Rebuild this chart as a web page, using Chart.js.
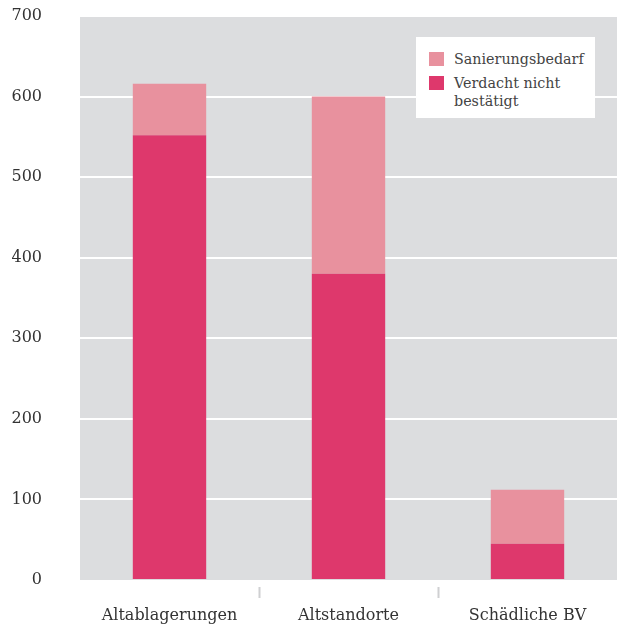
<!DOCTYPE html>
<html lang="de">
<head>
<meta charset="utf-8">
<script src="https://cdn.jsdelivr.net/npm/chart.js@4/dist/chart.umd.min.js"></script>
<style>
  html, body { margin: 0; padding: 0; background: #fff; overflow: hidden; }
  .wrap { position: relative; width: 617px; height: 628px; }
  canvas { display: block; }
  .legend {
    position: absolute; left: 416px; top: 37px; width: 179px; height: 81px;
    background: #fff; box-sizing: border-box; padding: 13px 0 0 13px;
    font-family: "DejaVu Serif", serif; font-size: 14.3px; color: #444; line-height: 18px;
  }
  .legend .item { display: flex; align-items: flex-start; margin-bottom: 6px; }
  .legend .sw { width: 15px; height: 14px; margin: 2px 10px 0 0; flex: none; }
</style>
</head>
<body>
<div class="wrap">
  <canvas id="chart" width="617" height="628"></canvas>
  <div class="legend" id="legend"></div>
</div>
<script>
const categories = ['Altablagerungen', 'Altstandorte', 'Schädliche BV'];
const notConfirmed = [552, 380, 45];
const remediation = [64, 220, 67];
const yTicks = [0, 100, 200, 300, 400, 500, 600, 700];

const darkPink = '#de386c';
const lightPink = '#e8919e';
const fontFamily = '"DejaVu Serif", serif';

// gray plot background
const plotBackground = {
  id: 'plotBackground',
  beforeDraw(chart) {
    const { ctx, chartArea: a } = chart;
    ctx.save();
    ctx.fillStyle = '#dcdddf';
    ctx.fillRect(a.left, a.top, a.right - a.left, a.bottom - a.top);
    ctx.restore();
  }
};

// separator ticks only between categories, not at the outer edges
const innerTick = (c) =>
  (c.type !== 'tick' || c.index === 0) ? 'rgba(0,0,0,0)' : '#cfd0d2';

const chart = new Chart(document.getElementById('chart'), {
  type: 'bar',
  data: {
    labels: categories,
    datasets: [
      { label: 'Verdacht nicht bestätigt', data: notConfirmed, backgroundColor: darkPink },
      { label: 'Sanierungsbedarf', data: remediation, backgroundColor: lightPink }
    ]
  },
  options: {
    responsive: false,
    animation: false,
    layout: { padding: { top: 16, right: 0, left: 0, bottom: 0 } },
    datasets: { bar: { categoryPercentage: 1, barPercentage: 0.41 } },
    plugins: { legend: { display: false }, tooltip: { enabled: false } },
    scales: {
      x: {
        stacked: true,
        border: { display: false },
        grid: {
          offset: true,
          drawOnChartArea: false,
          drawTicks: true,
          tickLength: 18,
          tickWidth: 2,
          tickBorderDash: [0, 7, 11, 100],
          tickColor: innerTick
        },
        ticks: { color: '#333', font: { family: fontFamily, size: 16 }, padding: 8 },
        afterFit(scale) { scale.height = 48; }
      },
      y: {
        stacked: true,
        min: 0,
        max: 700,
        border: { display: false },
        afterBuildTicks(scale) { scale.ticks = yTicks.map(v => ({ value: v })); },
        grid: {
          drawTicks: false,
          lineWidth: 2,
          color: (c) => c.index === 0 ? 'rgba(0,0,0,0)' : '#ffffff'
        },
        ticks: { color: '#333', font: { family: fontFamily, size: 16 }, padding: 38 },
        afterFit(scale) {
          scale.width = 80;
          scale.paddingTop = 0;
          scale.paddingBottom = 0;
        }
      }
    }
  },
  plugins: [plotBackground]
});

// legend box, upper series first
const legend = document.getElementById('legend');
[...chart.data.datasets].reverse().forEach(ds => {
  const item = document.createElement('div');
  item.className = 'item';
  const sw = document.createElement('span');
  sw.className = 'sw';
  sw.style.background = ds.backgroundColor;
  const txt = document.createElement('span');
  if (ds.label === 'Verdacht nicht bestätigt') {
    txt.append('Verdacht nicht', document.createElement('br'), 'bestätigt');
  } else {
    txt.textContent = ds.label;
  }
  item.append(sw, txt);
  legend.appendChild(item);
});
</script>
</body>
</html>
